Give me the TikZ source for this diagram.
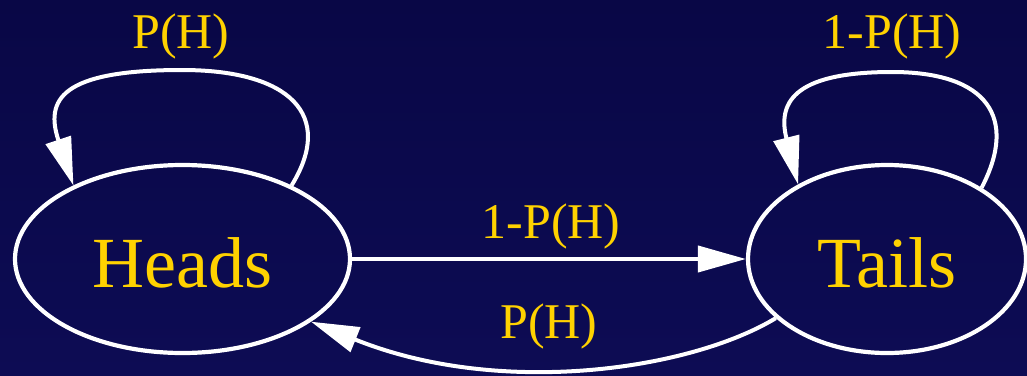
\documentclass[tikz,border=0pt]{standalone}
\usepackage{fontspec}
\setmainfont{Liberation Serif}
\usetikzlibrary{shapes.geometric,arrows.meta}
\definecolor{bgtop}{RGB}{9,7,70}
\definecolor{bgbot}{RGB}{13,12,84}
\definecolor{gold}{RGB}{255,210,0}
\tikzset{
  state/.style={ellipse, draw=white, line width=4.2pt, inner sep=0pt, text=gold,
    font=\fontsize{72}{72}\selectfont, text height=56pt, text depth=0pt, minimum height=188pt},
  edge/.style={draw=white, line width=4pt, -{Triangle[length=48pt,width=26pt]}},
  lbl/.style={text=gold, font=\fontsize{50}{50}\selectfont, anchor=base, inner sep=0pt}
}
\begin{document}
\begin{tikzpicture}[x=1pt,y=-1pt]
\shade[top color=bgtop, bottom color=bgbot] (0,0) rectangle (1027,375);
\useasboundingbox (0,0) rectangle (1027,375);
\node[state, minimum width=335pt] (H) at (182.5,259) {Heads};
\node[state, minimum width=278pt] (T) at (887,259) {Tails};
\draw[edge] (H.east) -- (T.west);
\draw[edge] (T.208) .. controls (690,370) and (500,398) .. (H.334);
\draw[edge] (H.34) .. controls (335,115) and (290,70) .. (182,70) .. controls (60,70) and (45,100) .. (H.146);
\draw[edge] (T.37) .. controls (1018,118) and (988,72) .. (892,72) .. controls (790,72) and (778,105) .. (T.140);
\node[lbl] (l1) at (181,48) {P(H)};
\node[lbl] (l2) at (892,48) {1-P(H)};
\node[lbl] (l3) at (551,238) {1-P(H)};
\node[lbl] (l4) at (549,338) {P(H)};
\end{tikzpicture}
\end{document}
